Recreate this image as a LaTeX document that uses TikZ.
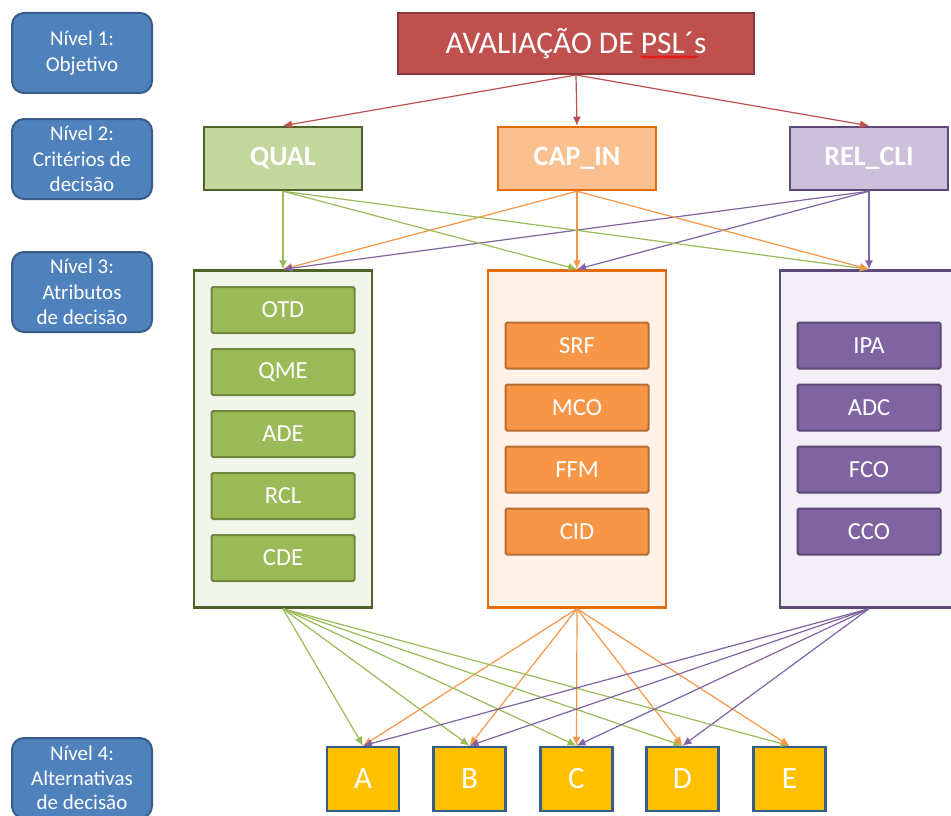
\documentclass[tikz,border=0pt]{standalone}
\usepackage{fontspec}
\setmainfont{Carlito}
\usetikzlibrary{arrows.meta,calc,decorations.pathmorphing}
\definecolor{lvlfill}{HTML}{4F81BD}
\definecolor{lvldraw}{HTML}{385D8A}
\definecolor{topfill}{HTML}{C0504D}
\definecolor{topdraw}{HTML}{8C3836}
\definecolor{qfill}{HTML}{C3D69B}
\definecolor{qdraw}{HTML}{4F6228}
\definecolor{qin}{HTML}{9BBB59}
\definecolor{qindraw}{HTML}{71893F}
\definecolor{qbox}{HTML}{F2F5EB}
\definecolor{cfill}{HTML}{FAC090}
\definecolor{cdraw}{HTML}{E36C09}
\definecolor{cin}{HTML}{F79646}
\definecolor{cindraw}{HTML}{B66D31}
\definecolor{cbox}{HTML}{FDF1E8}
\definecolor{rfill}{HTML}{CCC1DA}
\definecolor{rdraw}{HTML}{5F497A}
\definecolor{rin}{HTML}{8064A2}
\definecolor{rindraw}{HTML}{5C4776}
\definecolor{rbox}{HTML}{F2F0F6}
\definecolor{altfill}{HTML}{FFC000}
\definecolor{altdraw}{HTML}{385D8A}
\begin{document}
\begin{tikzpicture}[x=1pt,y=-1pt,
  lvl/.style={draw=lvldraw, fill=lvlfill, line width=2pt, rounded corners=12pt,
    text=white, align=center, minimum width=140pt, minimum height=80pt,
    inner sep=0pt, font=\fontsize{21}{25.5}\selectfont},
  topbox/.style={draw=topdraw, fill=topfill, line width=2pt, text=white,
    minimum width=356pt, minimum height=61pt, inner sep=0pt,
    font=\fontsize{31.5}{36}\selectfont},
  crit/.style={line width=2.5pt, text=white, minimum width=158pt,
    minimum height=63pt, inner sep=0pt, font=\bfseries\fontsize{28}{32}\selectfont},
  cont/.style={line width=2.5pt, minimum width=178pt, minimum height=337pt, inner sep=0pt},
  attr/.style={line width=2pt, rounded corners=1.5pt, text=white, minimum width=143pt,
    minimum height=46pt, inner sep=0pt, font=\fontsize{24.5}{28}\selectfont},
  alt/.style={draw=altdraw, fill=altfill, line width=2.5pt, text=white,
    minimum width=72pt, minimum height=64pt, inner sep=0pt,
    font=\fontsize{31}{34}\selectfont},
  arr/.style={line width=1.2pt, -{Latex[length=9pt,width=8pt]}},
]
\useasboundingbox (0,0) rectangle (951,816);
\fill[white] (0,0) rectangle (951,816);

% level labels
\node[lvl] (l1) at (82,53) {Nível 1:\\Objetivo};
\node[lvl] (l2) at (82,159) {Nível 2:\\Critérios de\\decisão};
\node[lvl] (l3) at (82,292) {Nível 3:\\Atributos\\de decisão};
\node[lvl, font=\fontsize{21}{24.5}\selectfont] (l4) at (82,778) {Nível 4:\\Alternativas\\de decisão};

% top
\node[topbox] (top) at (576,43.5) {AVALIAÇÃO DE PSL´s};
\draw[red, line width=0.8pt, decorate, decoration={snake, amplitude=1pt, segment length=3pt}]
  ($(top.center)+(65,13.5)$) -- ($(top.center)+(122,13.5)$);

% criteria
\node[crit, draw=qdraw, fill=qfill] (qual) at (283,158.5) {QUAL};
\node[crit, draw=cdraw, fill=cfill] (cap) at (577,158.5) {CAP\_IN};
\node[crit, draw=rdraw, fill=rfill] (rel) at (869,158.5) {REL\_CLI};

% containers
\node[cont, draw=qdraw, fill=qbox] (qc) at (283,439) {};
\node[cont, draw=cdraw, fill=cbox] (cc) at (577,439) {};
\node[cont, draw=rdraw, fill=rbox] (rc) at (869,439) {};

% attributes
\node[attr, draw=qindraw, fill=qin] (otd) at (283,310) {OTD};
\node[attr, draw=qindraw, fill=qin] (qme) at (283,372) {QME};
\node[attr, draw=qindraw, fill=qin] (ade) at (283,434) {ADE};
\node[attr, draw=qindraw, fill=qin] (rcl) at (283,496) {RCL};
\node[attr, draw=qindraw, fill=qin] (cde) at (283,558) {CDE};

\node[attr, draw=cindraw, fill=cin] (srf) at (577,345.5) {SRF};
\node[attr, draw=cindraw, fill=cin] (mco) at (577,407.5) {MCO};
\node[attr, draw=cindraw, fill=cin] (ffm) at (577,469.5) {FFM};
\node[attr, draw=cindraw, fill=cin] (cid) at (577,531.5) {CID};

\node[attr, draw=rindraw, fill=rin] (ipa) at (869,345.5) {IPA};
\node[attr, draw=rindraw, fill=rin] (adc) at (869,407.5) {ADC};
\node[attr, draw=rindraw, fill=rin] (fco) at (869,469.5) {FCO};
\node[attr, draw=rindraw, fill=rin] (cco) at (869,531.5) {CCO};

% alternatives
\node[alt] (a) at (363,779) {A};
\node[alt] (b) at (469.5,779) {B};
\node[alt] (c) at (576.5,779) {C};
\node[alt] (d) at (682.5,779) {D};
\node[alt] (e) at (789.5,779) {E};

% level 1 -> 2
\foreach \t in {qual,cap,rel}
  \draw[arr, topfill] (top.south) -- (\t.north);

% level 2 -> 3
\foreach \t in {qc,cc,rc}{
  \draw[arr, qin] (qual.south) -- (\t.north);
  \draw[arr, cin] (cap.south) -- (\t.north);
  \draw[arr, rin] (rel.south) -- (\t.north);
}

% level 3 -> 4
\foreach \t in {a,b,c,d,e}{
  \draw[arr, qin] (qc.south) -- (\t.north);
  \draw[arr, cin] (cc.south) -- (\t.north);
}
\foreach \t in {a,b,c,d}
  \draw[arr, rin] (rc.south) -- (\t.north);
\end{tikzpicture}
\end{document}
